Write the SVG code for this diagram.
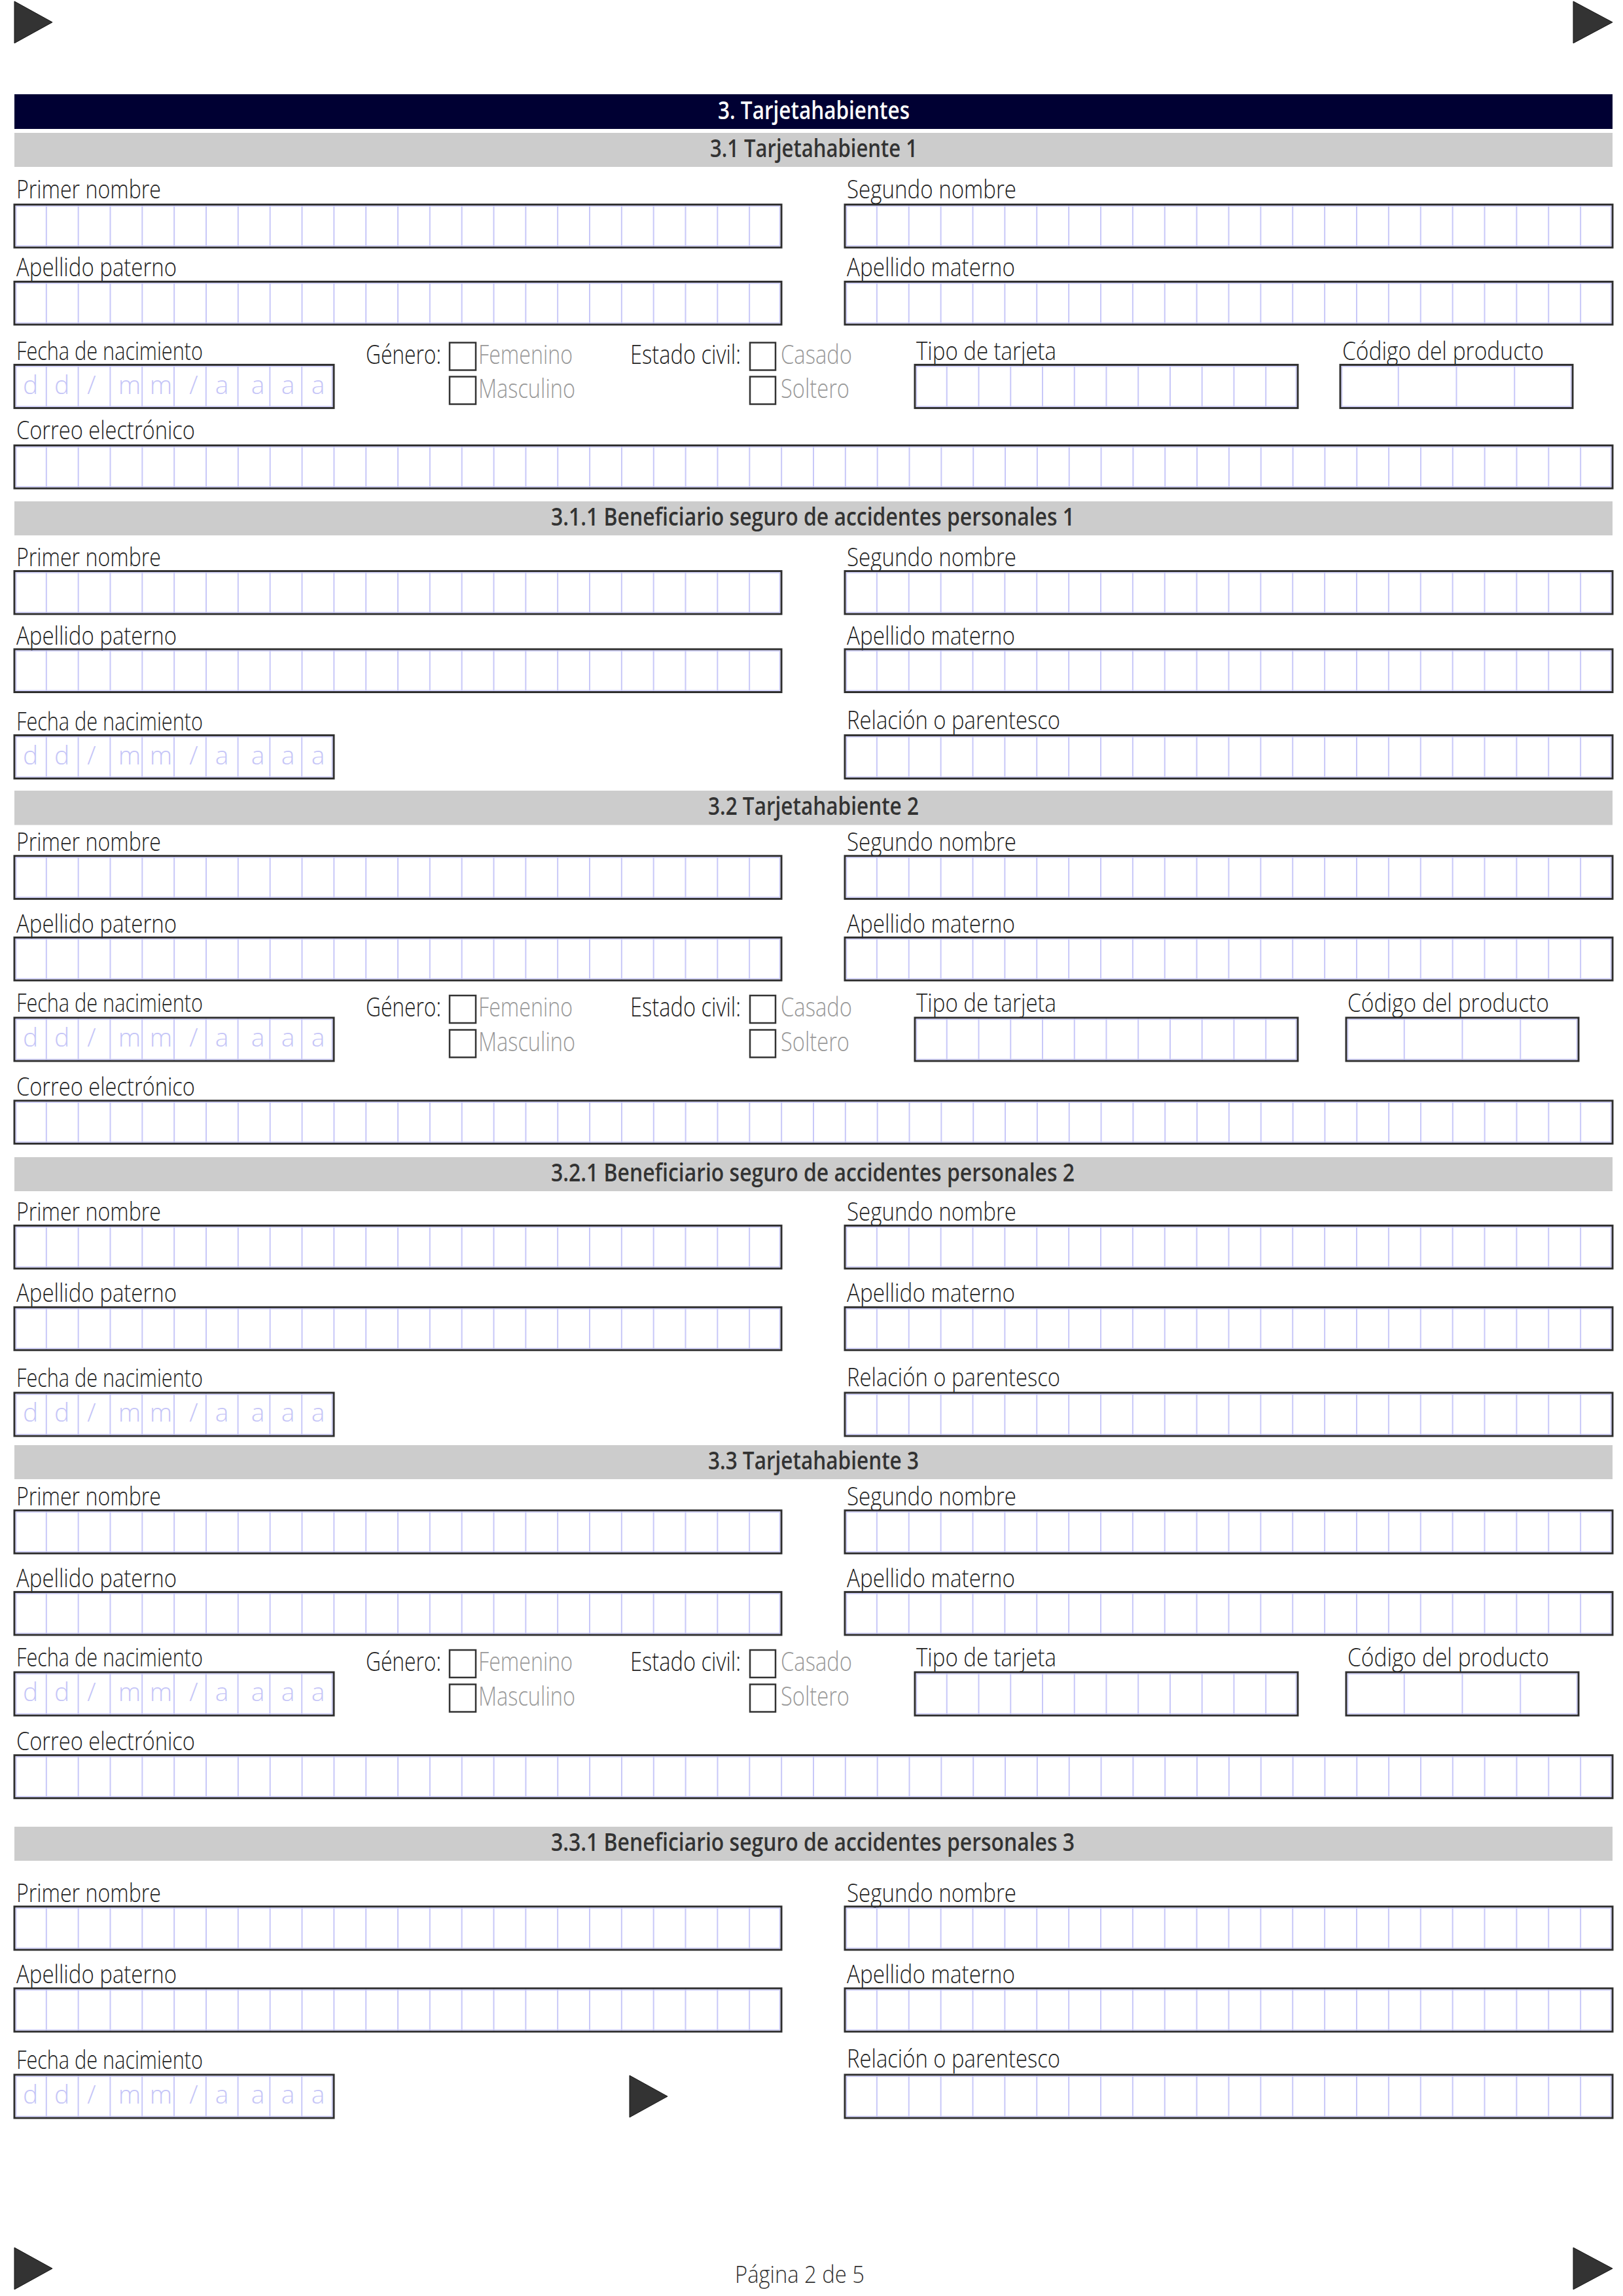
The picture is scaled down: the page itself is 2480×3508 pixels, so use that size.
<svg xmlns="http://www.w3.org/2000/svg" width="2480" height="3508" viewBox="0 0 2480 3508">
<style>
.nav{fill:#000033}
.bar{fill:#cccccc}
.h{font-family:"Open Sans","Liberation Sans",sans-serif;font-weight:600;font-size:37px}
.hw{fill:#ffffff}
.hg{fill:#333333}
.l{font-family:"Open Sans","Liberation Sans",sans-serif;font-weight:300;font-size:38px;fill:#222222}
.g{font-family:"Open Sans","Liberation Sans",sans-serif;font-weight:300;font-size:40px;fill:#222222}
.o{font-family:"Open Sans","Liberation Sans",sans-serif;font-weight:300;font-size:41px;fill:#999999}
.bx{stroke:#2e2e2e;stroke-width:3}
.in{fill:none;stroke:#c8c8f8;stroke-width:1.5}
.cb{fill:#ffffff;stroke:#333333;stroke-width:2.5}
.ph{font-family:"Open Sans","Liberation Sans",sans-serif;font-weight:300;font-size:39px;fill:#c5c5f7;text-anchor:middle}
.tri{fill:#333333;stroke:#151515;stroke-width:1}
.ft{font-family:"Open Sans","Liberation Sans",sans-serif;font-weight:300;font-size:36px;fill:#333333}
</style>
<defs>
<pattern id="pL" patternUnits="userSpaceOnUse" x="21" y="0" width="48.833" height="20"><rect x="0" y="0" width="2" height="20" fill="#c8c8f8"/></pattern>
<pattern id="pR" patternUnits="userSpaceOnUse" x="1290" y="0" width="48.875" height="20"><rect x="0" y="0" width="2" height="20" fill="#c8c8f8"/></pattern>
<pattern id="pW" patternUnits="userSpaceOnUse" x="21" y="0" width="48.84" height="20"><rect x="0" y="0" width="2" height="20" fill="#c8c8f8"/></pattern>
<pattern id="pD" patternUnits="userSpaceOnUse" x="21" y="0" width="48.8" height="20"><rect x="0" y="0" width="2" height="20" fill="#c8c8f8"/></pattern>
<pattern id="pT" patternUnits="userSpaceOnUse" x="1397" y="0" width="48.75" height="20"><rect x="0" y="0" width="2" height="20" fill="#c8c8f8"/></pattern>
<pattern id="pC1" patternUnits="userSpaceOnUse" x="2047" y="0" width="88.75" height="20"><rect x="0" y="0" width="2" height="20" fill="#c8c8f8"/></pattern>
<pattern id="pC2" patternUnits="userSpaceOnUse" x="2056" y="0" width="88.75" height="20"><rect x="0" y="0" width="2" height="20" fill="#c8c8f8"/></pattern>
</defs>
<rect x="0" y="0" width="2480" height="3508" fill="#ffffff"/>

<g id="markers">
<polygon class="tri" points="22,2 80,34 22,66"/>
<polygon class="tri" points="2404,2 2464,34 2404,66"/>
<polygon class="tri" points="962,3171 1020,3203 962,3235"/>
<polygon class="tri" points="22,3434 80,3466 22,3498"/>
<polygon class="tri" points="2404,3434 2464,3466 2404,3498"/>
</g>

<g id="header-3">
<rect class="nav" x="22" y="144" width="2442" height="53"/>
<text class="h hw" x="1097" y="181.5" textLength="293" lengthAdjust="spacingAndGlyphs">3. Tarjetahabientes</text>
</g>

<!-- ================= 3.1 ================= -->
<g id="sec-3-1">
<g id="t1-title"><rect class="bar" x="22" y="203" width="2442" height="52"/><text class="h hg" x="1085" y="240" textLength="317" lengthAdjust="spacingAndGlyphs">3.1 Tarjetahabiente 1</text></g>
<g id="t1-primer"><text class="l" x="25" y="303" textLength="221" lengthAdjust="spacingAndGlyphs">Primer nombre</text><rect class="bx" fill="url(#pL)" x="22" y="312.6" width="1172" height="65.5"/><rect class="in" x="24.5" y="315.1" width="1167" height="60.5"/></g>
<g id="t1-segundo"><text class="l" x="1294" y="303" textLength="259" lengthAdjust="spacingAndGlyphs">Segundo nombre</text><rect class="bx" fill="url(#pR)" x="1291" y="312.6" width="1173" height="65.5"/><rect class="in" x="1293.5" y="315.1" width="1168" height="60.5"/></g>
<g id="t1-apaterno"><text class="l" x="25" y="422" textLength="245" lengthAdjust="spacingAndGlyphs">Apellido paterno</text><rect class="bx" fill="url(#pL)" x="22" y="430.4" width="1172" height="65.5"/><rect class="in" x="24.5" y="432.9" width="1167" height="60.5"/></g>
<g id="t1-amaterno"><text class="l" x="1294" y="422" textLength="257" lengthAdjust="spacingAndGlyphs">Apellido materno</text><rect class="bx" fill="url(#pR)" x="1291" y="430.4" width="1173" height="65.5"/><rect class="in" x="1293.5" y="432.9" width="1168" height="60.5"/></g>
<g id="t1-fecha"><text class="l" x="25" y="550" textLength="285" lengthAdjust="spacingAndGlyphs">Fecha de nacimiento</text><rect class="bx" fill="url(#pD)" x="22" y="557.4" width="488" height="66"/><rect class="in" x="24.5" y="559.9" width="483" height="61"/><text class="ph" x="46.5 94.5 140 198 246 296 339 394 440 486" y="601.5">dd/mm/aaaa</text></g>
<g id="t1-genero"><text class="g" x="559" y="556" textLength="115" lengthAdjust="spacingAndGlyphs">Género:</text><rect class="cb" x="687" y="523.5" width="40" height="42"/><rect class="cb" x="687" y="575.5" width="40" height="42"/><text class="o" x="731" y="556" textLength="144" lengthAdjust="spacingAndGlyphs">Femenino</text><text class="o" x="731" y="608" textLength="148" lengthAdjust="spacingAndGlyphs">Masculino</text></g>
<g id="t1-estado"><text class="g" x="963" y="556" textLength="169" lengthAdjust="spacingAndGlyphs">Estado civil:</text><rect class="cb" x="1146" y="523.5" width="39" height="42"/><rect class="cb" x="1146" y="575.5" width="39" height="42"/><text class="o" x="1193" y="556" textLength="109" lengthAdjust="spacingAndGlyphs">Casado</text><text class="o" x="1193" y="608" textLength="105" lengthAdjust="spacingAndGlyphs">Soltero</text></g>
<g id="t1-tipo"><text class="l" x="1400" y="550" textLength="214" lengthAdjust="spacingAndGlyphs">Tipo de tarjeta</text><rect class="bx" fill="url(#pT)" x="1398" y="557.4" width="585" height="66"/><rect class="in" x="1400.5" y="559.9" width="580" height="61"/></g>
<g id="t1-codigo"><text class="l" x="2051" y="550" textLength="308" lengthAdjust="spacingAndGlyphs">Código del producto</text><rect class="bx" fill="url(#pC1)" x="2048" y="557.4" width="355" height="66"/><rect class="in" x="2050.5" y="559.9" width="350" height="61"/></g>
<g id="t1-correo"><text class="l" x="25" y="671" textLength="273" lengthAdjust="spacingAndGlyphs">Correo electrónico</text><rect class="bx" fill="url(#pW)" x="22" y="680.6" width="2442" height="65.5"/><rect class="in" x="24.5" y="683.1" width="2437" height="60.5"/></g>
</g>

<!-- ================= 3.1.1 ================= -->
<g id="sec-3-1-1">
<g id="b1-title"><rect class="bar" x="22" y="766" width="2442" height="52"/><text class="h hg" x="842" y="803" textLength="800" lengthAdjust="spacingAndGlyphs">3.1.1 Beneficiario seguro de accidentes personales 1</text></g>
<g id="b1-primer"><text class="l" x="25" y="865" textLength="221" lengthAdjust="spacingAndGlyphs">Primer nombre</text><rect class="bx" fill="url(#pL)" x="22" y="872.6" width="1172" height="65.5"/><rect class="in" x="24.5" y="875.1" width="1167" height="60.5"/></g>
<g id="b1-segundo"><text class="l" x="1294" y="865" textLength="259" lengthAdjust="spacingAndGlyphs">Segundo nombre</text><rect class="bx" fill="url(#pR)" x="1291" y="872.6" width="1173" height="65.5"/><rect class="in" x="1293.5" y="875.1" width="1168" height="60.5"/></g>
<g id="b1-apaterno"><text class="l" x="25" y="985" textLength="245" lengthAdjust="spacingAndGlyphs">Apellido paterno</text><rect class="bx" fill="url(#pL)" x="22" y="992" width="1172" height="65.5"/><rect class="in" x="24.5" y="994.5" width="1167" height="60.5"/></g>
<g id="b1-amaterno"><text class="l" x="1294" y="985" textLength="257" lengthAdjust="spacingAndGlyphs">Apellido materno</text><rect class="bx" fill="url(#pR)" x="1291" y="992" width="1173" height="65.5"/><rect class="in" x="1293.5" y="994.5" width="1168" height="60.5"/></g>
<g id="b1-fecha"><text class="l" x="25" y="1116" textLength="285" lengthAdjust="spacingAndGlyphs">Fecha de nacimiento</text><rect class="bx" fill="url(#pD)" x="22" y="1123.4" width="488" height="66"/><rect class="in" x="24.5" y="1125.9" width="483" height="61"/><text class="ph" x="46.5 94.5 140 198 246 296 339 394 440 486" y="1167.5">dd/mm/aaaa</text></g>
<g id="b1-relacion"><text class="l" x="1294" y="1114" textLength="326" lengthAdjust="spacingAndGlyphs">Relación o parentesco</text><rect class="bx" fill="url(#pR)" x="1291" y="1123.4" width="1173" height="66"/><rect class="in" x="1293.5" y="1125.9" width="1168" height="61"/></g>
</g>

<!-- ================= 3.2 ================= -->
<g id="sec-3-2">
<g id="t2-title"><rect class="bar" x="22" y="1208" width="2442" height="52.5"/><text class="h hg" x="1082" y="1245" textLength="322" lengthAdjust="spacingAndGlyphs">3.2 Tarjetahabiente 2</text></g>
<g id="t2-primer"><text class="l" x="25" y="1300.4" textLength="221" lengthAdjust="spacingAndGlyphs">Primer nombre</text><rect class="bx" fill="url(#pL)" x="22" y="1307.8" width="1172" height="65.5"/><rect class="in" x="24.5" y="1310.3" width="1167" height="60.5"/></g>
<g id="t2-segundo"><text class="l" x="1294" y="1300.4" textLength="259" lengthAdjust="spacingAndGlyphs">Segundo nombre</text><rect class="bx" fill="url(#pR)" x="1291" y="1307.8" width="1173" height="65.5"/><rect class="in" x="1293.5" y="1310.3" width="1168" height="60.5"/></g>
<g id="t2-apaterno"><text class="l" x="25" y="1424.5" textLength="245" lengthAdjust="spacingAndGlyphs">Apellido paterno</text><rect class="bx" fill="url(#pL)" x="22" y="1432.4" width="1172" height="65.5"/><rect class="in" x="24.5" y="1434.9" width="1167" height="60.5"/></g>
<g id="t2-amaterno"><text class="l" x="1294" y="1424.5" textLength="257" lengthAdjust="spacingAndGlyphs">Apellido materno</text><rect class="bx" fill="url(#pR)" x="1291" y="1432.4" width="1173" height="65.5"/><rect class="in" x="1293.5" y="1434.9" width="1168" height="60.5"/></g>
<g id="t2-fecha"><text class="l" x="25" y="1546" textLength="285" lengthAdjust="spacingAndGlyphs">Fecha de nacimiento</text><rect class="bx" fill="url(#pD)" x="22" y="1555" width="488" height="66"/><rect class="in" x="24.5" y="1557.5" width="483" height="61"/><text class="ph" x="46.5 94.5 140 198 246 296 339 394 440 486" y="1599">dd/mm/aaaa</text></g>
<g id="t2-genero"><text class="g" x="559" y="1553" textLength="115" lengthAdjust="spacingAndGlyphs">Género:</text><rect class="cb" x="687" y="1521" width="40" height="42"/><rect class="cb" x="687" y="1573.5" width="40" height="42"/><text class="o" x="731" y="1553" textLength="144" lengthAdjust="spacingAndGlyphs">Femenino</text><text class="o" x="731" y="1605.5" textLength="148" lengthAdjust="spacingAndGlyphs">Masculino</text></g>
<g id="t2-estado"><text class="g" x="963" y="1553" textLength="169" lengthAdjust="spacingAndGlyphs">Estado civil:</text><rect class="cb" x="1146" y="1521" width="39" height="42"/><rect class="cb" x="1146" y="1573.5" width="39" height="42"/><text class="o" x="1193" y="1553" textLength="109" lengthAdjust="spacingAndGlyphs">Casado</text><text class="o" x="1193" y="1605.5" textLength="105" lengthAdjust="spacingAndGlyphs">Soltero</text></g>
<g id="t2-tipo"><text class="l" x="1400" y="1546" textLength="214" lengthAdjust="spacingAndGlyphs">Tipo de tarjeta</text><rect class="bx" fill="url(#pT)" x="1398" y="1555" width="585" height="66"/><rect class="in" x="1400.5" y="1557.5" width="580" height="61"/></g>
<g id="t2-codigo"><text class="l" x="2059" y="1546" textLength="308" lengthAdjust="spacingAndGlyphs">Código del producto</text><rect class="bx" fill="url(#pC2)" x="2057" y="1555" width="355" height="66"/><rect class="in" x="2059.5" y="1557.5" width="350" height="61"/></g>
<g id="t2-correo"><text class="l" x="25" y="1674" textLength="273" lengthAdjust="spacingAndGlyphs">Correo electrónico</text><rect class="bx" fill="url(#pW)" x="22" y="1681.8" width="2442" height="65.5"/><rect class="in" x="24.5" y="1684.3" width="2437" height="60.5"/></g>
</g>

<!-- ================= 3.2.1 ================= -->
<g id="sec-3-2-1">
<g id="b2-title"><rect class="bar" x="22" y="1768" width="2442" height="52"/><text class="h hg" x="842" y="1805" textLength="800" lengthAdjust="spacingAndGlyphs">3.2.1 Beneficiario seguro de accidentes personales 2</text></g>
<g id="b2-primer"><text class="l" x="25" y="1864.7" textLength="221" lengthAdjust="spacingAndGlyphs">Primer nombre</text><rect class="bx" fill="url(#pL)" x="22" y="1872.6" width="1172" height="65.5"/><rect class="in" x="24.5" y="1875.1" width="1167" height="60.5"/></g>
<g id="b2-segundo"><text class="l" x="1294" y="1864.7" textLength="259" lengthAdjust="spacingAndGlyphs">Segundo nombre</text><rect class="bx" fill="url(#pR)" x="1291" y="1872.6" width="1173" height="65.5"/><rect class="in" x="1293.5" y="1875.1" width="1168" height="60.5"/></g>
<g id="b2-apaterno"><text class="l" x="25" y="1988.7" textLength="245" lengthAdjust="spacingAndGlyphs">Apellido paterno</text><rect class="bx" fill="url(#pL)" x="22" y="1997.3" width="1172" height="65.5"/><rect class="in" x="24.5" y="1999.8" width="1167" height="60.5"/></g>
<g id="b2-amaterno"><text class="l" x="1294" y="1988.7" textLength="257" lengthAdjust="spacingAndGlyphs">Apellido materno</text><rect class="bx" fill="url(#pR)" x="1291" y="1997.3" width="1173" height="65.5"/><rect class="in" x="1293.5" y="1999.8" width="1168" height="60.5"/></g>
<g id="b2-fecha"><text class="l" x="25" y="2119.4" textLength="285" lengthAdjust="spacingAndGlyphs">Fecha de nacimiento</text><rect class="bx" fill="url(#pD)" x="22" y="2128" width="488" height="66"/><rect class="in" x="24.5" y="2130.5" width="483" height="61"/><text class="ph" x="46.5 94.5 140 198 246 296 339 394 440 486" y="2172">dd/mm/aaaa</text></g>
<g id="b2-relacion"><text class="l" x="1294" y="2117.5" textLength="326" lengthAdjust="spacingAndGlyphs">Relación o parentesco</text><rect class="bx" fill="url(#pR)" x="1291" y="2128" width="1173" height="66"/><rect class="in" x="1293.5" y="2130.5" width="1168" height="61"/></g>
</g>

<!-- ================= 3.3 ================= -->
<g id="sec-3-3">
<g id="t3-title"><rect class="bar" x="22" y="2208" width="2442" height="52"/><text class="h hg" x="1082" y="2245" textLength="322" lengthAdjust="spacingAndGlyphs">3.3 Tarjetahabiente 3</text></g>
<g id="t3-primer"><text class="l" x="25" y="2300.4" textLength="221" lengthAdjust="spacingAndGlyphs">Primer nombre</text><rect class="bx" fill="url(#pL)" x="22" y="2307.8" width="1172" height="65.5"/><rect class="in" x="24.5" y="2310.3" width="1167" height="60.5"/></g>
<g id="t3-segundo"><text class="l" x="1294" y="2300.4" textLength="259" lengthAdjust="spacingAndGlyphs">Segundo nombre</text><rect class="bx" fill="url(#pR)" x="1291" y="2307.8" width="1173" height="65.5"/><rect class="in" x="1293.5" y="2310.3" width="1168" height="60.5"/></g>
<g id="t3-apaterno"><text class="l" x="25" y="2424.5" textLength="245" lengthAdjust="spacingAndGlyphs">Apellido paterno</text><rect class="bx" fill="url(#pL)" x="22" y="2432.4" width="1172" height="65.5"/><rect class="in" x="24.5" y="2434.9" width="1167" height="60.5"/></g>
<g id="t3-amaterno"><text class="l" x="1294" y="2424.5" textLength="257" lengthAdjust="spacingAndGlyphs">Apellido materno</text><rect class="bx" fill="url(#pR)" x="1291" y="2432.4" width="1173" height="65.5"/><rect class="in" x="1293.5" y="2434.9" width="1168" height="60.5"/></g>
<g id="t3-fecha"><text class="l" x="25" y="2546" textLength="285" lengthAdjust="spacingAndGlyphs">Fecha de nacimiento</text><rect class="bx" fill="url(#pD)" x="22" y="2555" width="488" height="66"/><rect class="in" x="24.5" y="2557.5" width="483" height="61"/><text class="ph" x="46.5 94.5 140 198 246 296 339 394 440 486" y="2599">dd/mm/aaaa</text></g>
<g id="t3-genero"><text class="g" x="559" y="2553" textLength="115" lengthAdjust="spacingAndGlyphs">Género:</text><rect class="cb" x="687" y="2521" width="40" height="42"/><rect class="cb" x="687" y="2573.5" width="40" height="42"/><text class="o" x="731" y="2553" textLength="144" lengthAdjust="spacingAndGlyphs">Femenino</text><text class="o" x="731" y="2605.5" textLength="148" lengthAdjust="spacingAndGlyphs">Masculino</text></g>
<g id="t3-estado"><text class="g" x="963" y="2553" textLength="169" lengthAdjust="spacingAndGlyphs">Estado civil:</text><rect class="cb" x="1146" y="2521" width="39" height="42"/><rect class="cb" x="1146" y="2573.5" width="39" height="42"/><text class="o" x="1193" y="2553" textLength="109" lengthAdjust="spacingAndGlyphs">Casado</text><text class="o" x="1193" y="2605.5" textLength="105" lengthAdjust="spacingAndGlyphs">Soltero</text></g>
<g id="t3-tipo"><text class="l" x="1400" y="2546" textLength="214" lengthAdjust="spacingAndGlyphs">Tipo de tarjeta</text><rect class="bx" fill="url(#pT)" x="1398" y="2555" width="585" height="66"/><rect class="in" x="1400.5" y="2557.5" width="580" height="61"/></g>
<g id="t3-codigo"><text class="l" x="2059" y="2546" textLength="308" lengthAdjust="spacingAndGlyphs">Código del producto</text><rect class="bx" fill="url(#pC2)" x="2057" y="2555" width="355" height="66"/><rect class="in" x="2059.5" y="2557.5" width="350" height="61"/></g>
<g id="t3-correo"><text class="l" x="25" y="2674" textLength="273" lengthAdjust="spacingAndGlyphs">Correo electrónico</text><rect class="bx" fill="url(#pW)" x="22" y="2681.8" width="2442" height="65.5"/><rect class="in" x="24.5" y="2684.3" width="2437" height="60.5"/></g>
</g>

<!-- ================= 3.3.1 ================= -->
<g id="sec-3-3-1">
<g id="b3-title"><rect class="bar" x="22" y="2791" width="2442" height="52"/><text class="h hg" x="842" y="2828" textLength="800" lengthAdjust="spacingAndGlyphs">3.3.1 Beneficiario seguro de accidentes personales 3</text></g>
<g id="b3-primer"><text class="l" x="25" y="2905.5" textLength="221" lengthAdjust="spacingAndGlyphs">Primer nombre</text><rect class="bx" fill="url(#pL)" x="22" y="2913" width="1172" height="66"/><rect class="in" x="24.5" y="2915.5" width="1167" height="61"/></g>
<g id="b3-segundo"><text class="l" x="1294" y="2905.5" textLength="259" lengthAdjust="spacingAndGlyphs">Segundo nombre</text><rect class="bx" fill="url(#pR)" x="1291" y="2913" width="1173" height="66"/><rect class="in" x="1293.5" y="2915.5" width="1168" height="61"/></g>
<g id="b3-apaterno"><text class="l" x="25" y="3030" textLength="245" lengthAdjust="spacingAndGlyphs">Apellido paterno</text><rect class="bx" fill="url(#pL)" x="22" y="3038" width="1172" height="66"/><rect class="in" x="24.5" y="3040.5" width="1167" height="61"/></g>
<g id="b3-amaterno"><text class="l" x="1294" y="3030" textLength="257" lengthAdjust="spacingAndGlyphs">Apellido materno</text><rect class="bx" fill="url(#pR)" x="1291" y="3038" width="1173" height="66"/><rect class="in" x="1293.5" y="3040.5" width="1168" height="61"/></g>
<g id="b3-fecha"><text class="l" x="25" y="3161" textLength="285" lengthAdjust="spacingAndGlyphs">Fecha de nacimiento</text><rect class="bx" fill="url(#pD)" x="22" y="3170" width="488" height="66"/><rect class="in" x="24.5" y="3172.5" width="483" height="61"/><text class="ph" x="46.5 94.5 140 198 246 296 339 394 440 486" y="3214">dd/mm/aaaa</text></g>
<g id="b3-relacion"><text class="l" x="1294" y="3159" textLength="326" lengthAdjust="spacingAndGlyphs">Relación o parentesco</text><rect class="bx" fill="url(#pR)" x="1291" y="3170" width="1173" height="66"/><rect class="in" x="1293.5" y="3172.5" width="1168" height="61"/></g>
</g>

<g id="footer"><text class="ft" x="1123" y="3488" textLength="198" lengthAdjust="spacingAndGlyphs">Página 2 de 5</text></g>
<g id="connectors"></g>
</svg>
